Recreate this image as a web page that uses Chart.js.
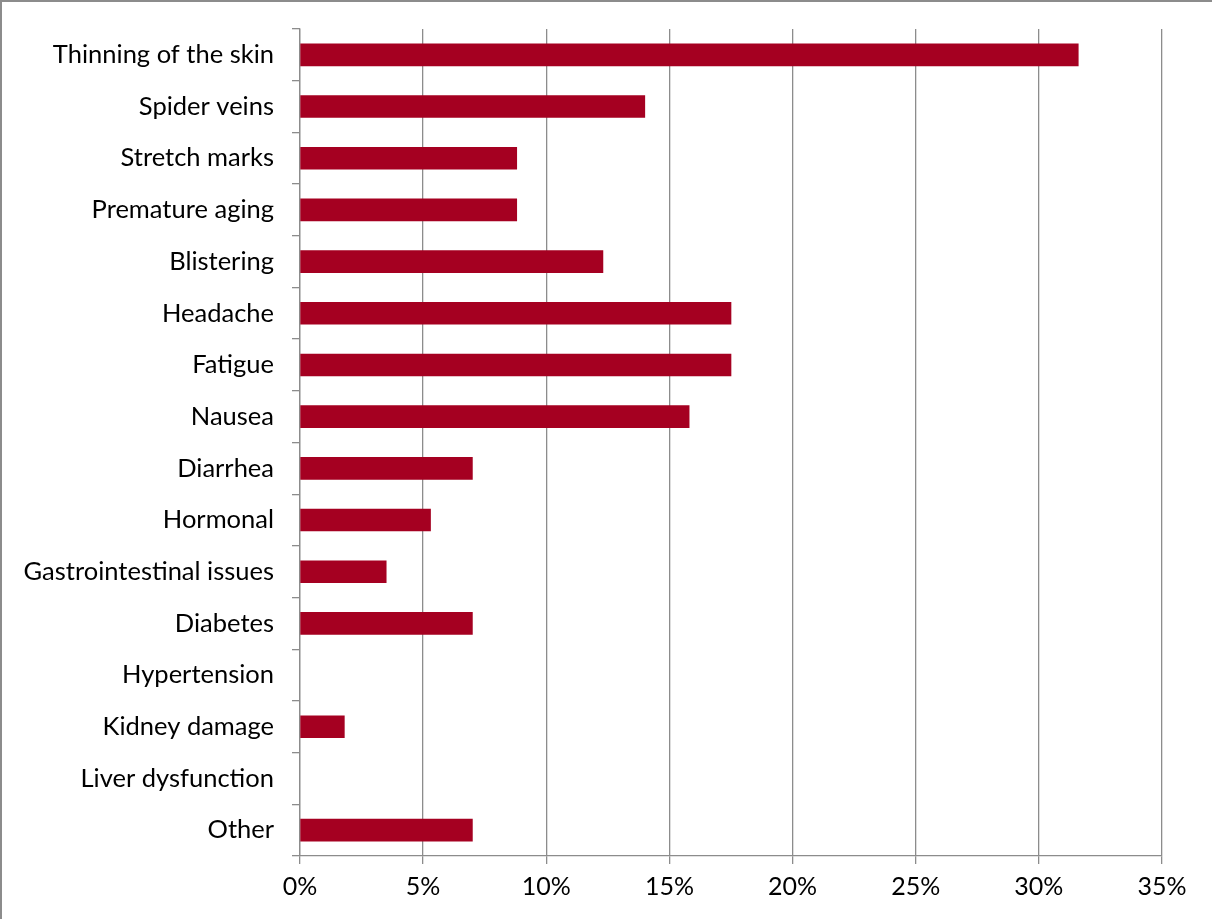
<!DOCTYPE html>
<html>
<head>
<meta charset="utf-8">
<script src="https://cdn.jsdelivr.net/npm/chart.js@4/dist/chart.umd.min.js"></script>
<style>
  html, body { margin: 0; padding: 0; background: #fff; }
  #wrap { width: 1212px; height: 919px; position: relative; }
</style>
</head>
<body>
<div id="wrap"><canvas id="chart"></canvas></div>
<script>
// categories, top to bottom
var labels = [
    "Thinning of the skin", "Spider veins", "Stretch marks", "Premature aging",
    "Blistering", "Headache", "Fatigue", "Nausea", "Diarrhea", "Hormonal",
    "Gastrointestinal issues", "Diabetes", "Hypertension", "Kidney damage",
    "Liver dysfunction", "Other"
];
// share of respondents, percent
var values = [31.6, 14.0, 8.8, 8.8, 12.3, 17.5, 17.5, 15.8, 7.0, 5.3, 3.5, 7.0, 0, 1.8, 0, 7.0];
var xTicks = [0, 5, 10, 15, 20, 25, 30, 35];

var FONT = "Lato, 'Open Sans', sans-serif";

// thin gray frame on top and left, like the source export
var framePlugin = {
    id: "frame",
    afterDraw: function(chart) {
        var ctx = chart.ctx;
        ctx.save();
        ctx.strokeStyle = "#8c8c8c";
        ctx.lineWidth = 2;
        ctx.beginPath();
        ctx.moveTo(1, chart.height);
        ctx.lineTo(1, 1);
        ctx.lineTo(chart.width, 1);
        ctx.stroke();
        ctx.restore();
    }
};

var ctx = document.getElementById("chart").getContext("2d");
new Chart(ctx, {
    type: "bar",
    data: {
        labels: labels,
        datasets: [{
            data: values,
            // zero values should leave no sliver at the axis
            backgroundColor: function(c) {
                return c.raw ? "#a50021" : "rgba(0,0,0,0)";
            },
            borderWidth: 0,
            barThickness: 22
        }]
    },
    plugins: [framePlugin],
    options: {
        indexAxis: "y",
        responsive: true,
        maintainAspectRatio: false,
        animation: false,
        layout: { padding: { top: 29, right: 50, bottom: 0, left: 0 } },
        plugins: {
            legend: { display: false },
            tooltip: { enabled: false }
        },
        scales: {
            x: {
                min: 0,
                max: 35,
                afterBuildTicks: function(axis) {
                    axis.ticks = xTicks.map(function(v) { return { value: v }; });
                },
                afterFit: function(axis) { axis.height = 63; },
                ticks: {
                    callback: function(v) { return v + "%"; },
                    color: "#000",
                    font: { family: FONT, size: 25 },
                    padding: 8,
                    maxRotation: 0
                },
                grid: { color: "#8c8c8c", lineWidth: 1.3, tickLength: 8 },
                border: { color: "#8c8c8c", width: 1.3 }
            },
            y: {
                afterFit: function(axis) {
                    axis.width = 300;
                    axis.paddingTop = 0;
                    axis.paddingBottom = 0;
                },
                ticks: {
                    color: "#000",
                    font: { family: FONT, size: 25.5 },
                    padding: 18
                },
                grid: {
                    offset: true,
                    drawOnChartArea: false,
                    color: "#8c8c8c",
                    lineWidth: 1.3,
                    tickLength: 8
                },
                border: { color: "#8c8c8c", width: 1.3 }
            }
        }
    }
});
</script>
</body>
</html>
